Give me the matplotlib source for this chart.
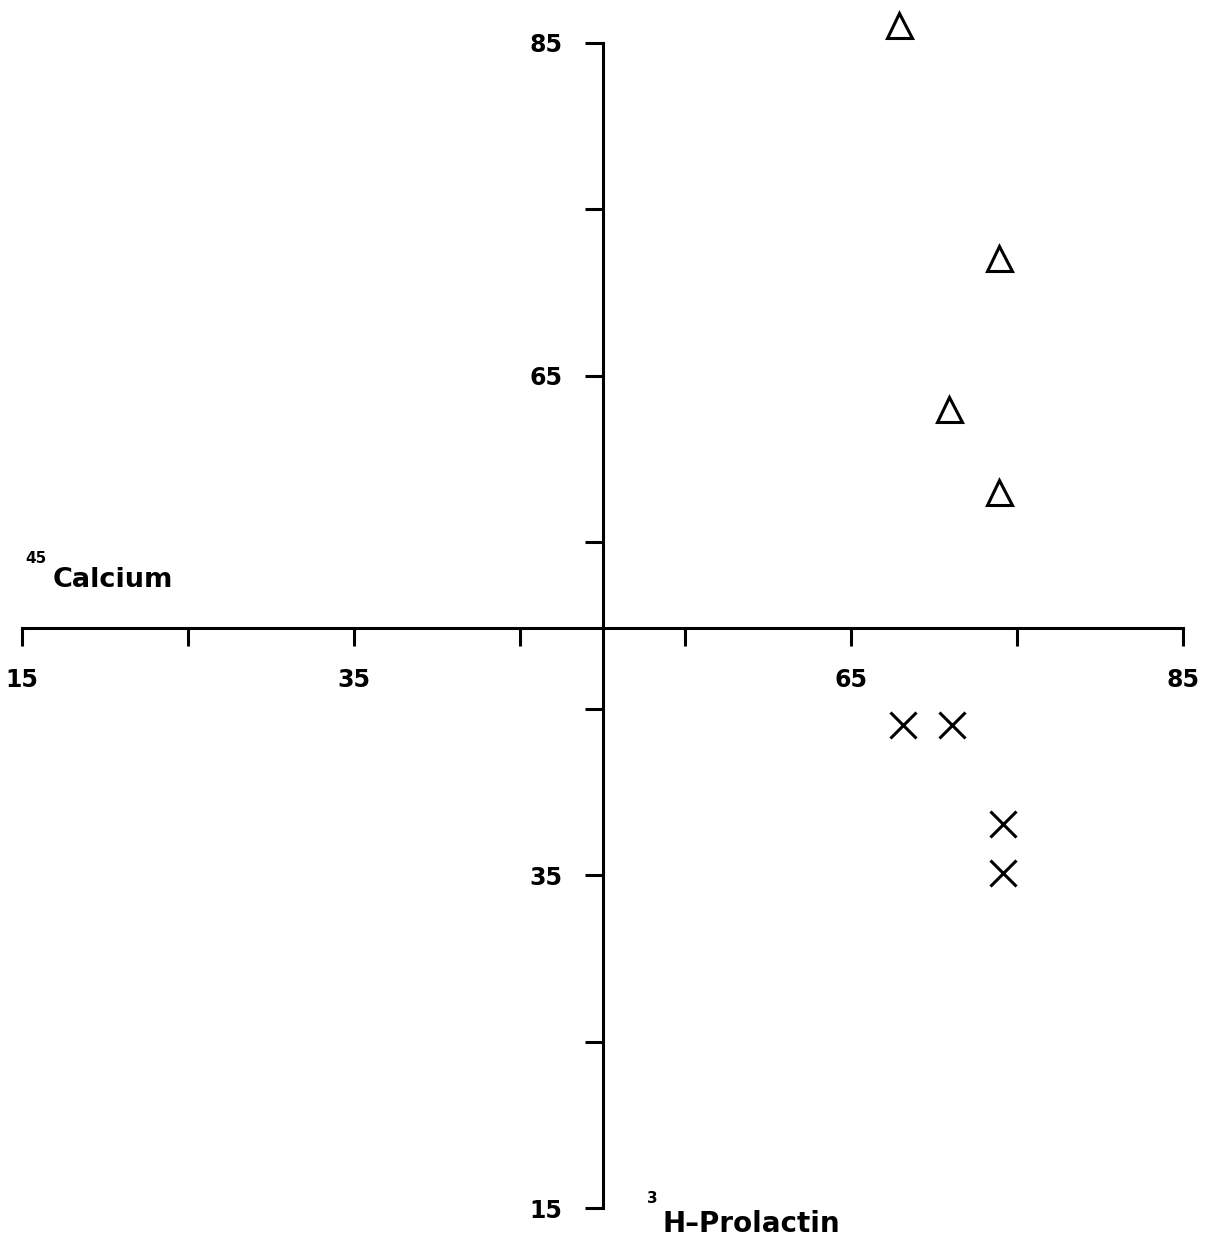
#!/usr/bin/env python3
"""Quadrant plot of 45Ca against 3H-prolactin, axes crossing near (50, 50)."""

import matplotlib

matplotlib.use("Agg")
import matplotlib.pyplot as plt
import numpy as np


# ---------------------------------------------------------------------------
# Data
# ---------------------------------------------------------------------------

# triangles: upper right quadrant
triangle_prolactin = [67.9, 73.9, 70.9, 73.9]
triangle_calcium = [86.1, 72.1, 63.0, 58.05]

# crosses: lower right quadrant
cross_prolactin = [68.1, 71.1, 74.15, 74.15]
cross_calcium = [44.0, 44.0, 38.1, 35.1]

tick_values = [15, 25, 35, 45, 55, 65, 75, 85]
tick_labels = ["15", "", "35", "", "", "65", "", "85"]

# ---------------------------------------------------------------------------
# Layout
# ---------------------------------------------------------------------------

FONT = "DejaVu Sans"
AXIS_LW = 2.2
TICK_LEN = 13
TICK_PAD = 16

# axes fill the whole canvas; limits chosen so 15..85 land where the scan has them
XLIM = (13.67, 86.87)
YLIM = (12.78, 87.58)

# the scanned axes cross a hair below 50 on the vertical scale
CROSS_X = 50
CROSS_Y = 49.85

fig = plt.figure(figsize=(12.14, 12.45), dpi=100)
ax = fig.add_axes([0, 0, 1, 1])
ax.set_xlim(*XLIM)
ax.set_ylim(*YLIM)

for side in ("top", "right"):
    ax.spines[side].set_visible(False)
ax.spines["left"].set_position(("data", CROSS_X))
ax.spines["bottom"].set_position(("data", CROSS_Y))
ax.spines["left"].set_bounds(15, 85)
ax.spines["bottom"].set_bounds(15, 85)
for side in ("left", "bottom"):
    ax.spines[side].set_linewidth(AXIS_LW)

ax.set_xticks(tick_values)
ax.set_xticklabels(tick_labels)
ax.set_yticks(tick_values)
ax.set_yticklabels(tick_labels)
ax.tick_params(
    direction="out",
    length=TICK_LEN,
    width=AXIS_LW,
    pad=TICK_PAD,
    labelsize=17,
)
for label in ax.get_xticklabels() + ax.get_yticklabels():
    label.set_fontweight("bold")
    label.set_family(FONT)

# ---------------------------------------------------------------------------
# Points
# ---------------------------------------------------------------------------

ax.plot(
    triangle_prolactin,
    triangle_calcium,
    linestyle="none",
    marker="^",
    markersize=18,
    markerfacecolor="white",
    markeredgecolor="black",
    markeredgewidth=2.2,
    clip_on=False,
)
ax.plot(
    cross_prolactin,
    cross_calcium,
    linestyle="none",
    marker="x",
    markersize=19,
    markeredgecolor="black",
    markeredgewidth=2.2,
    clip_on=False,
)

# ---------------------------------------------------------------------------
# Axis names with isotope superscripts
# ---------------------------------------------------------------------------

ax.text(16.87, 52.31, "Calcium", fontsize=19.5, fontweight="bold", family=FONT)
ax.text(15.18, 53.75, "45", fontsize=11, fontweight="bold", family=FONT)
ax.text(53.59, 13.56, "H\u2013Prolactin", fontsize=20, fontweight="bold", family=FONT)
ax.text(52.68, 15.3, "3", fontsize=11, fontweight="bold", family=FONT)

fig.savefig("out.png", dpi=100, facecolor="white")
